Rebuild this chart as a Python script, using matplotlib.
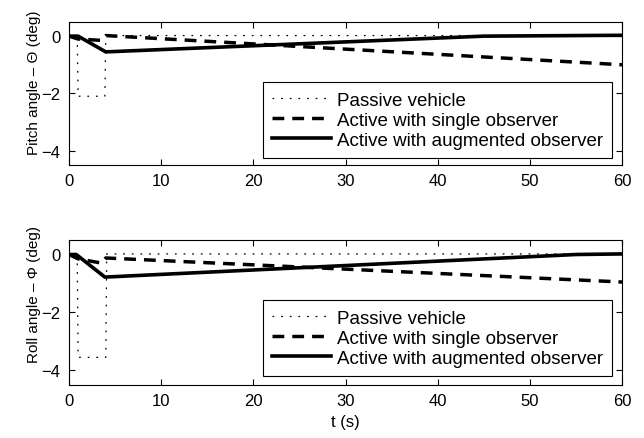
import matplotlib
matplotlib.use("Agg")
import matplotlib.pyplot as plt

plt.rcParams['font.family'] = ['Liberation Sans', 'DejaVu Sans']
plt.rcParams['font.size'] = 12

# pitch angle (deg)
t_pass_p = [0, 0.9, 1.0, 3.9, 4.0, 60]
pass_p = [0, 0, -2.1, -2.1, 0.02, 0.02]
t_single_p = [0, 1, 3.6, 4.0, 60]
single_p = [0, -0.1, -0.15, 0.02, -1.0]
t_aug_p = [0, 1, 4, 45, 60]
aug_p = [0, 0, -0.55, 0, 0.03]

# roll angle (deg)
t_pass_r = [0, 0.9, 1.0, 4.0, 4.1, 60]
pass_r = [0, 0, -3.55, -3.55, 0.02, 0.02]
t_single_r = [0, 1, 3.6, 4.0, 60]
single_r = [0, -0.15, -0.3, -0.12, -0.95]
t_aug_r = [0, 0.8, 3.9, 55, 60]
aug_r = [0, 0, -0.78, 0, 0.02]

labels = ['Passive vehicle', 'Active with single observer', 'Active with augmented observer']

fig = plt.figure(figsize=(6.44, 4.39), dpi=100)
ax1 = fig.add_axes([0.107, 0.622, 0.859, 0.326])
ax2 = fig.add_axes([0.107, 0.121, 0.859, 0.330])

panels = [
    (ax1, t_pass_p, pass_p, t_single_p, single_p, t_aug_p, aug_p, 'Pitch angle \u2013 \u0398 (deg)', 0.58, 0.049),
    (ax2, t_pass_r, pass_r, t_single_r, single_r, t_aug_r, aug_r, 'Roll angle \u2013 \u03a6 (deg)', 0.63, 0.062),
]

for ax, tp, yp, ts, ys, ta, ya, ylab, ly, legy in panels:
    ax.plot(tp, yp, color='k', lw=0.9, dashes=(1.4, 5.5), label=labels[0])
    ax.plot(ts, ys, color='k', lw=2.5, dashes=(3.4, 2.3), label=labels[1])
    ax.plot(ta, ya, color='k', lw=2.6, label=labels[2])
    ax.set_xlim(0, 60)
    ax.set_ylim(-4.5, 0.5)
    ax.set_xticks([0, 10, 20, 30, 40, 50, 60])
    ax.set_yticks([-4, -2, 0])
    ax.tick_params(direction='in', top=True, right=True, length=4, width=0.8,
                   labelsize=12, pad=6)
    for s in ax.spines.values():
        s.set_linewidth(0.8)
    ax.set_ylabel(ylab, fontsize=11)
    ax.yaxis.set_label_coords(-0.05, ly)
    leg = ax.legend(loc='lower right', bbox_to_anchor=(0.982, legy), fontsize=13.5,
                    fancybox=False, framealpha=1, edgecolor='k', handlelength=3.15,
                    handletextpad=0.3, labelspacing=0.15, borderpad=0.5, borderaxespad=0)
    leg.get_frame().set_linewidth(0.8)

ax2.set_xlabel('t (s)', fontsize=12, labelpad=4)

fig.savefig('out.png', dpi=100)
